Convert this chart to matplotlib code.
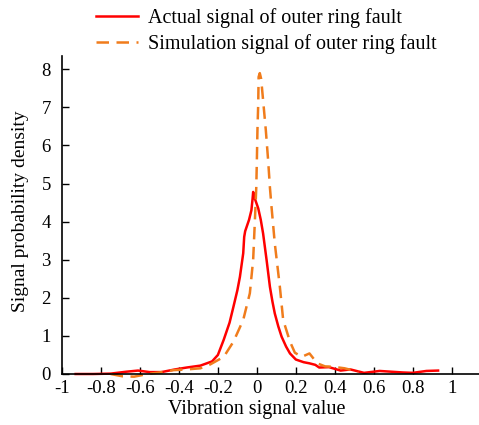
import numpy as np
import matplotlib.pyplot as plt

plt.rcParams['font.family'] = ['Liberation Serif', 'DejaVu Serif']

# actual signal (red, solid)
x_act = [-0.93, -0.84, -0.75, -0.67, -0.61, -0.55, -0.49, -0.42, -0.36, -0.29,
         -0.23, -0.20, -0.17, -0.14, -0.12, -0.10, -0.087, -0.07, -0.065, -0.06,
         -0.04, -0.028, -0.022, -0.019, -0.01, 0.007, 0.02, 0.032, 0.05, 0.067,
         0.08, 0.092, 0.11, 0.127, 0.15, 0.17, 0.20, 0.24, 0.27, 0.30,
         0.32, 0.37, 0.43, 0.48, 0.55, 0.63, 0.75, 0.80, 0.87, 0.93]
y_act = [0.0, 0.0, 0.01, 0.06, 0.09, 0.05, 0.05, 0.12, 0.17, 0.22,
         0.33, 0.5, 0.9, 1.35, 1.77, 2.2, 2.55, 3.17, 3.6, 3.75,
         4.05, 4.3, 4.6, 4.78, 4.6, 4.35, 4.05, 3.69, 2.99, 2.29,
         1.9, 1.59, 1.25, 0.98, 0.72, 0.54, 0.38, 0.31, 0.28, 0.24,
         0.17, 0.18, 0.09, 0.12, 0.03, 0.08, 0.04, 0.03, 0.08, 0.09]

# simulation signal (orange, dashed)
x_sim = [-0.75, -0.69, -0.63, -0.56, -0.50, -0.43, -0.36, -0.29, -0.24, -0.17,
         -0.12, -0.07, -0.036, -0.019, -0.01, -0.003, 0.0, 0.003, 0.007, 0.009,
         0.015, 0.022, 0.032, 0.046, 0.058, 0.067, 0.075, 0.092, 0.118, 0.135,
         0.17, 0.195, 0.23, 0.27, 0.31, 0.35, 0.39, 0.45, 0.52]
y_sim = [0.0, -0.06, -0.07, 0.0, 0.04, 0.1, 0.12, 0.15, 0.25, 0.45,
         0.85, 1.42, 2.12, 3.0, 4.04, 4.9, 5.6, 6.4, 7.1, 7.8,
         7.9, 7.75, 7.19, 6.4, 5.6, 4.9, 4.4, 3.43, 2.29, 1.42,
         0.85, 0.56, 0.45, 0.54, 0.28, 0.2, 0.19, 0.15, 0.06]

xticks = [-1, -0.8, -0.6, -0.4, -0.2, 0, 0.2, 0.4, 0.6, 0.8, 1]
xtick_labels = ['-1', '-0.8', '-0.6', '-0.4', '-0.2', '0', '0.2', '0.4', '0.6', '0.8', '1']
yticks = np.arange(0, 9)

fig = plt.figure(figsize=(4.79, 4.25), dpi=100)
ax = fig.add_axes([62/479, 1-374/425, 1-62/479, (374-56)/425])

ax.plot(x_act, y_act, color='#ff0000', lw=1.8, label='Actual signal of outer ring fault',
        clip_on=False)
ax.plot(x_sim, y_sim, color='#f07c1c', lw=1.8, dashes=(5, 3),
        label='Simulation signal of outer ring fault', clip_on=False)

ax.set_xlim(-1, 1.14)
ax.set_ylim(0, 8.35)
ax.set_xticks(xticks)
ax.set_xticklabels(xtick_labels)
ax.set_yticks(yticks)
ax.tick_params(direction='in', length=5, width=1, labelsize=13.5)
ax.tick_params(axis='x', pad=4)
ax.tick_params(axis='y', pad=8)
for s in ['top', 'right']:
    ax.spines[s].set_visible(False)
ax.spines['left'].set_linewidth(1.2)
ax.spines['bottom'].set_linewidth(1.2)
ax.set_xlabel('Vibration signal value', fontsize=14.5)
ax.set_ylabel('Signal probability density', fontsize=14)
ax.xaxis.set_label_coords(0.466, -0.082)
ax.yaxis.set_label_coords(-0.079, 0.513)

fig.legend(loc='upper left', bbox_to_anchor=(88/479, 1.0), frameon=False,
           fontsize=14.5, handlelength=2.1, handletextpad=0.5,
           labelspacing=0.3, borderaxespad=0.0)

fig.savefig('out.png', dpi=100)
